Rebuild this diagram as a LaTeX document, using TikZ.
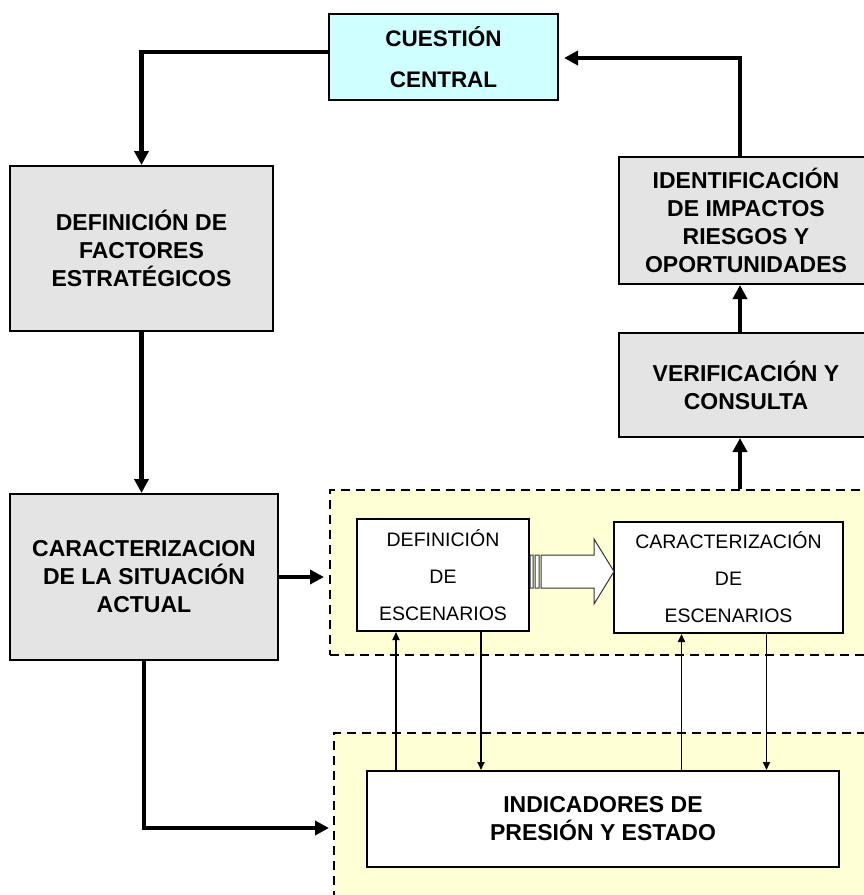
\documentclass[tikz,border=0pt]{standalone}
\usepackage{fontspec}
\setmainfont{Liberation Sans}
\usetikzlibrary{arrows.meta}
\definecolor{boxGray}{RGB}{228,228,228}
\definecolor{boxCyan}{RGB}{208,255,255}
\definecolor{zoneYellow}{RGB}{255,255,214}

\begin{document}
\begin{tikzpicture}
[x=1pt,y=-1pt,
  boxDecorate/.style={draw,line width=2pt,fill=boxGray,align=center,inner sep=0pt,
    font=\bfseries\fontsize{23}{28}\selectfont},
  questionDecorate/.style={boxDecorate,fill=boxCyan,font=\bfseries\fontsize{22.5}{41}\selectfont},
  sceneDecorate/.style={draw,line width=2pt,fill=white,align=center,inner sep=0pt,
    font=\fontsize{19.5}{37}\selectfont},
  indicDecorate/.style={boxDecorate,fill=white},
  zoneDecorate/.style={draw,line width=2pt,dash pattern=on 9pt off 6pt,fill=zoneYellow,inner sep=0pt},
  lineDecorate/.style={line width=4.5pt,-{Triangle[length=14pt,width=14pt]}},
  thinDecorate/.style={line width=1.8pt,-{Triangle[length=8pt,width=7pt]}}]
\useasboundingbox (0,0) rectangle (863,895);
%% zones
\node (zonaEsc) at (605,572.5) [zoneDecorate,minimum width=550pt,minimum height=165pt] {};
\node (zonaInd) at (607,828) [zoneDecorate,minimum width=546pt,minimum height=190pt] {};
%% boxes
\node (cuestion) at (443.5,57) [questionDecorate,minimum width=229pt,minimum height=86pt] {CUESTIÓN\\CENTRAL};
\node (factores) at (141.5,248.5) [boxDecorate,minimum width=263pt,minimum height=165pt] {DEFINICIÓN DE\\FACTORES\\ESTRATÉGICOS};
\node (situacion) at (144,577) [boxDecorate,minimum width=268pt,minimum height=166pt] {CARACTERIZACION\\DE LA SITUACIÓN\\ACTUAL};
\node (impactos) at (746,220.5) [boxDecorate,minimum width=254pt,minimum height=127pt] {IDENTIFICACIÓN\\DE IMPACTOS\\RIESGOS Y\\OPORTUNIDADES};
\node (consulta) at (746,385) [boxDecorate,minimum width=254pt,minimum height=104pt] {VERIFICACIÓN Y\\CONSULTA};
\node (defEsc) at (443,575) [sceneDecorate,minimum width=172pt,minimum height=112pt] {DEFINICIÓN\\DE\\ESCENARIOS};
\node (carEsc) at (728.5,577.5) [sceneDecorate,minimum width=229pt,minimum height=111pt] {CARACTERIZACIÓN\\DE\\ESCENARIOS};
\node (indicadores) at (603,819) [indicDecorate,minimum width=472pt,minimum height=96pt] {INDICADORES DE\\PRESIÓN Y ESTADO};
%% striped arrow
\draw[black!80,line width=1pt,fill=white] (530,555) rectangle (533,588) (535,555) rectangle (539,588)
  (541,555) -- (594,555) -- (594,539) -- (614,571.5) -- (594,604) -- (594,588) -- (541,588) -- cycle;
%% thick connectors
\coordinate (salida) at ([xshift=-6pt]consulta.south);
\coordinate (subida) at ([xshift=-6pt]impactos.north);
\draw[lineDecorate] ([yshift=5pt]cuestion.west) -| (factores.north);
\draw[lineDecorate] (factores.south) -- (factores.south |- situacion.north);
\draw[lineDecorate,shorten >=5pt] (situacion.east) -- (situacion.east -| zonaEsc.west);
\draw[lineDecorate,shorten >=4pt] (situacion.south) |- (zonaInd.west);
\draw[lineDecorate] (salida |- zonaEsc.north) -- (salida);
\draw[lineDecorate] ([xshift=-6pt]consulta.north) -- ([xshift=-6pt]impactos.south);
\draw[lineDecorate,shorten >=5pt] (subida) |- ([yshift=-1pt]cuestion.east);
%% thin connectors
\foreach \esc in {defEsc,carEsc}
{
  \coordinate (\esc-sube) at ([xshift=-47pt]\esc.south);
  \coordinate (\esc-baja) at ([xshift=38pt]\esc.south);
  \draw[thinDecorate] (\esc-sube |- indicadores.north) -- (\esc-sube);
  \draw[thinDecorate] (\esc-baja) -- (\esc-baja |- indicadores.north);
}
\end{tikzpicture}
\end{document}
